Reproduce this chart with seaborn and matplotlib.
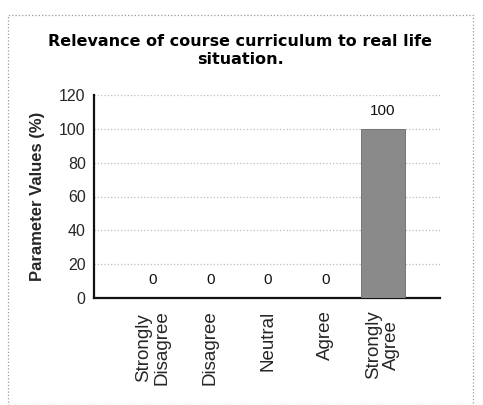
import matplotlib
matplotlib.use("Agg")
import matplotlib.pyplot as plt
import seaborn as sns
import pandas as pd
from matplotlib.patches import Rectangle

categories = ["Strongly\nDisagree", "Disagree", "Neutral", "Agree", "Strongly\nAgree"]
values = [0, 0, 0, 0, 100]
yticks = [0, 20, 40, 60, 80, 100, 120]

sns.set_style("white")
plt.rcParams['font.family'] = ['Liberation Sans', 'DejaVu Sans']

df = pd.DataFrame({"cat": categories, "val": values})

fig = plt.figure(figsize=(4.83, 4.05), dpi=100)
ax = fig.add_axes([94/483, 1-298/405, (440-94)/483, (298-95)/405])

sns.barplot(data=df, x="cat", y="val", ax=ax, color="#8a8a8a", width=0.77,
            saturation=1, edgecolor="#6a6a6a", linewidth=0.6, zorder=3)

for i, v in enumerate(values):
    ax.text(i, v + 6.5, f"{v}", ha="center", va="bottom", fontsize=11, color="#111111")

ax.set_xlim(-1.03, 5.0)
ax.set_ylim(0, 120)
ax.set_yticks(yticks)
ax.set_yticklabels([str(t) for t in yticks], fontsize=11.5)
ax.set_xticks(range(len(categories)))
ax.set_xticklabels(categories, rotation=90, fontsize=13.5, linespacing=1.1)
ax.set_xlabel("")
ax.set_ylabel("Parameter Values (%)", fontsize=12, fontweight="bold", labelpad=10)

ax.yaxis.grid(True, linestyle=":", color="#bdbdbd", linewidth=0.9, zorder=0)
for s in ["top", "right"]:
    ax.spines[s].set_visible(False)
for s in ["left", "bottom"]:
    ax.spines[s].set_color("#111111")
    ax.spines[s].set_linewidth(1.6)
ax.tick_params(axis="y", direction="out", length=4, width=1, color="#111111", pad=2)
ax.tick_params(axis="x", direction="out", length=4, width=1, color="#111111", pad=5)

fig.text(240/483, 1-50/405, "Relevance of course curriculum to real life\nsituation.",
         ha="center", va="center", fontsize=11.5, fontweight="bold", color="black",
         family=["DejaVu Sans"], linespacing=1.25)

border = Rectangle((8/483, 0.0), (473-8)/483, 1-15/405, transform=fig.transFigure,
                   fill=False, linestyle=":", edgecolor="#9a9a9a", linewidth=0.9)
fig.patches.append(border)

fig.savefig("out.png", dpi=100)
